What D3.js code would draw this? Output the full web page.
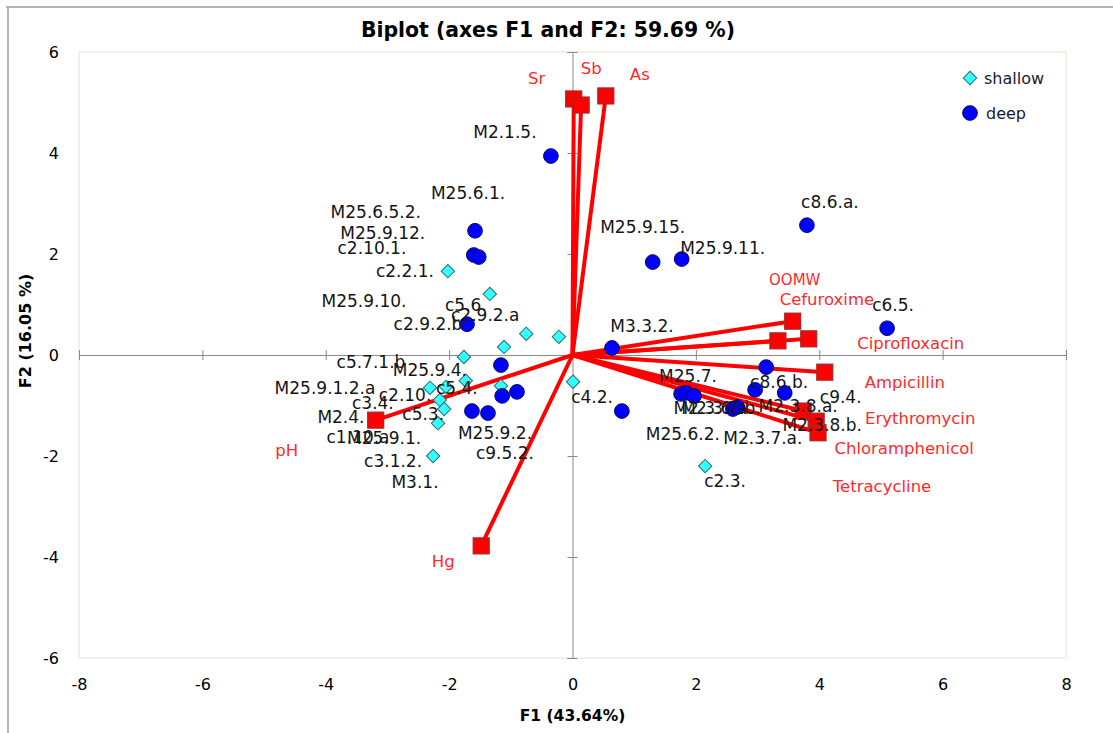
<!DOCTYPE html>
<html>
<head>
<meta charset="utf-8">
<script src="https://cdn.jsdelivr.net/npm/d3@7"></script>
<style>
  body { margin: 0; background: #fff; }
  svg text { font-family: "DejaVu Sans", sans-serif; }
</style>
</head>
<body>
<svg id="chart" width="1113" height="733"></svg>
<script>
// ---- data ----
var chartTitle = 'Biplot (axes F1 and F2: 59.69 %)';
var xTitle = 'F1 (43.64%)';
var yTitle = 'F2 (16.05 %)';
var xTicks = [-8, -6, -4, -2, 0, 2, 4, 6, 8];
var yTicks = [-6, -4, -2, 0, 2, 4, 6];
var groups = ['shallow', 'deep'];

// observations (F1, F2 scores)
var obsNames = ['M2.1.5.', 'M25.6.1.', 'M25.6.5.2.', 'M25.9.12.', 'c2.2.1.', 'c5.6.', 'c2.9.2.b', 'c2.9.2.a',
  'c2.10.1.', 'M25.9.10.', 'c5.7.1.b', 'M25.9.4.', 'c5.4.', 'M25.9.1.2.a', 'c2.10.', 'c3.4.', 'c5.3.', 'M2.4.',
  'c1.10.a', 'M25.9.1.', 'c3.1.2.', 'M25.9.2.', 'c9.5.2.', 'M3.1.',
  'M25.9.15.', 'M25.9.11.', 'c8.6.a.', 'c6.5.', 'M3.3.2.', 'c4.2.', 'c2.3.', 'c8.6.b.', 'c9.4.', 'M2.3.8.a.',
  'M25.7.', 'M2.3.6.a.', 'M2.3.7.b.', 'M25.6.2.', 'M2.3.7.a.', 'M2.3.8.b.'];
var obsF1 = [-0.35, -1.58, -1.60, -1.52, -2.02, -1.34, -1.71, -0.75,
  -0.22, -1.11, -1.76, -1.16, -1.73, -2.31, -2.05, -2.15, -2.08, -1.16,
  -2.18, -1.14, -2.26, -1.37, -1.63, -0.90,
  1.30, 1.77, 3.80, 5.10, 0.64, 0.01, 2.15, 2.96, 3.44, 3.14,
  1.76, 1.84, 1.97, 0.80, 2.60, 2.67];
var obsF2 = [3.94, 2.46, 1.98, 1.94, 1.66, 1.21, 0.61, 0.42,
  0.36, 0.16, -0.04, -0.20, -0.51, -0.65, -0.63, -0.89, -1.07, -0.61,
  -1.35, -0.81, -2.00, -1.15, -1.11, -0.73,
  1.84, 1.90, 2.57, 0.53, 0.14, -0.53, -2.20, -0.69, -0.75, -0.24,
  -0.77, -0.75, -0.81, -1.11, -1.07, -1.03];
var obsGroup = ['deep', 'deep', 'deep', 'deep', 'shallow', 'shallow', 'deep', 'shallow',
  'shallow', 'shallow', 'shallow', 'deep', 'shallow', 'shallow', 'shallow', 'shallow', 'shallow', 'shallow',
  'shallow', 'deep', 'shallow', 'deep', 'deep', 'deep',
  'deep', 'deep', 'deep', 'deep', 'deep', 'shallow', 'shallow', 'deep', 'deep', 'deep',
  'deep', 'deep', 'deep', 'deep', 'deep', 'deep'];

// variables (loadings)
var varNames = ['Sr', 'Sb', 'As', 'Hg', 'pH', 'OOMW', 'Cefuroxime', 'Ciprofloxacin',
  'Ampicillin', 'Erythromycin', 'Chloramphenicol', 'Tetracycline'];
var varF1 = [0.02, 0.14, 0.54, -1.48, -3.19, 3.57, 3.33, 3.83, 4.09, 3.74, 3.95, 3.98];
var varF2 = [5.07, 4.95, 5.13, -3.78, -1.29, 0.67, 0.28, 0.32, -0.34, -1.11, -1.31, -1.54];

// label nudges in px (label centre relative to its point), as placed in the original
var obsLabelShift = {
  'M2.1.5.': [-46, -24], 'M25.6.1.': [-7, -38], 'M25.6.5.2.': [-98, -43], 'M25.9.12.': [-96, -24],
  'c2.2.1.': [-43, 0], 'c5.6.': [-24, 11], 'c2.9.2.b': [-39, 0], 'c2.9.2.a': [-41, -19],
  'c2.10.1.': [-187, -89], 'M25.9.10.': [-140, -46], 'c5.7.1.b': [-93, 5], 'M25.9.4.': [-71, 5],
  'c5.4.': [-9, 7], 'M25.9.1.2.a': [-105, 0], 'c2.10.': [-41, 8], 'c3.4.': [-67, 3], 'c5.3.': [-21, 5],
  'M2.4.': [-160, 31], 'c1.10.a': [-80, 14], 'M25.9.1.': [-118, 42], 'c3.1.2.': [-40, 5],
  'M25.9.2.': [7, 20], 'c9.5.2.': [33, 42], 'M3.1.': [-102, 90],
  'M25.9.15.': [-10, -35], 'M25.9.11.': [41, -11], 'c8.6.a.': [23, -23], 'c6.5.': [6, -23],
  'M3.3.2.': [30, -22], 'c4.2.': [19, 15], 'c2.3.': [20, 15], 'c8.6.b.': [24, -8], 'c9.4.': [56, 4],
  'M2.3.8.a.': [32, 39], 'M25.7.': [7, -18], 'M2.3.6.a.': [27, 15], 'M2.3.7.b.': [27, 12],
  'M25.6.2.': [61, 23], 'M2.3.7.a.': [30, 29], 'M2.3.8.b.': [85, 18]
};
var varLabelShift = {
  'Sr': [-37, -21], 'Sb': [10, -37], 'As': [34, -22], 'Hg': [-38, 15], 'pH': [-89, 30],
  'OOMW': [2, -41], 'Cefuroxime': [49, -42], 'Ciprofloxacin': [102, 4], 'Ampicillin': [80, 10],
  'Erythromycin': [117, 7], 'Chloramphenicol': [88, 27], 'Tetracycline': [64, 53]
};

// ---- drawing ----
var svg = d3.select('#chart');
var plotL = 79, plotR = 1066, plotT = 52, plotB = 658;

var x = d3.scaleLinear().domain([-8, 8]).range([plotL, plotR]);
var y = d3.scaleLinear().domain([-6, 6]).range([plotB, plotT]);

// outer frame (only top and left edges show)
svg.append('line').attr('x1', 6).attr('x2', 1113).attr('y1', 7).attr('y2', 7)
  .attr('stroke', '#b4b4b4').attr('stroke-width', 2);
svg.append('line').attr('x1', 8).attr('x2', 8).attr('y1', 7).attr('y2', 733)
  .attr('stroke', '#b4b4b4').attr('stroke-width', 2);

// plot area border
svg.append('rect').attr('x', plotL).attr('y', plotT)
  .attr('width', plotR - plotL).attr('height', plotB - plotT)
  .attr('fill', 'none').attr('stroke', '#e8e2cf');

// tick labels outside the plot
var fmt = function(d) { return String(d); };
var xLab = svg.append('g').attr('transform', 'translate(0,' + plotB + ')')
  .call(d3.axisBottom(x).tickValues(xTicks).tickSize(0).tickPadding(21).tickFormat(fmt));
var yLab = svg.append('g').attr('transform', 'translate(' + plotL + ',0)')
  .call(d3.axisLeft(y).tickValues(yTicks).tickSize(0).tickPadding(20).tickFormat(fmt));
[xLab, yLab].forEach(function(g) {
  g.select('.domain').remove();
  g.selectAll('text').attr('font-size', 16).attr('fill', '#000')
    .style('font-family', '"DejaVu Sans", sans-serif');
});

// zero axes through the origin with crossing ticks
var xZero = svg.append('g').attr('transform', 'translate(0,' + y(0) + ')')
  .call(d3.axisBottom(x).tickValues(xTicks).tickSizeOuter(0).tickSize(5).tickFormat(''));
xZero.selectAll('.tick line').attr('y1', -5).attr('y2', 5);
var yZero = svg.append('g').attr('transform', 'translate(' + x(0) + ',0)')
  .call(d3.axisLeft(y).tickValues(yTicks).tickSizeOuter(0).tickSize(5).tickFormat(''));
yZero.selectAll('.tick line').attr('x1', -5).attr('x2', 5);
[xZero, yZero].forEach(function(g) {
  g.selectAll('.domain, .tick line').attr('stroke', '#8a8a8a');
});

// variable vectors
var vars = varNames.map(function(n, i) { return { name: n, f1: varF1[i], f2: varF2[i] }; });
var obs = obsNames.map(function(n, i) { return { name: n, f1: obsF1[i], f2: obsF2[i], group: obsGroup[i] }; });

svg.append('g').selectAll('line').data(vars).enter().append('line')
  .attr('x1', x(0)).attr('y1', y(0))
  .attr('x2', function(d) { return x(d.f1); })
  .attr('y2', function(d) { return y(d.f2); })
  .attr('stroke', '#ff0000').attr('stroke-width', 4);

svg.append('g').selectAll('rect').data(vars).enter().append('rect')
  .attr('x', function(d) { return x(d.f1) - 8; })
  .attr('y', function(d) { return y(d.f2) - 8; })
  .attr('width', 16).attr('height', 16)
  .attr('fill', '#ff0000').attr('stroke', '#9b2b2b').attr('stroke-width', 1.2);

// observations
var shallowSym = d3.symbol().type(d3.symbolSquare).size(90);
var deepSym = d3.symbol().type(d3.symbolCircle).size(170);
function drawMarker(g, group) {
  if (group === 'shallow') {
    g.append('path').attr('d', shallowSym()).attr('transform', 'rotate(45)')
      .attr('fill', '#33ffff').attr('stroke', '#2e6e6e').attr('stroke-width', 1);
  } else {
    g.append('path').attr('d', deepSym())
      .attr('fill', '#0000ff').attr('stroke', '#0a0a5a').attr('stroke-width', 1);
  }
}
svg.append('g').selectAll('g').data(obs).enter().append('g')
  .attr('transform', function(d) { return 'translate(' + x(d.f1) + ',' + y(d.f2) + ')'; })
  .each(function(d) { drawMarker(d3.select(this), d.group); });

// observation labels
svg.append('g').selectAll('text').data(obs).enter().append('text')
  .attr('x', function(d) { return x(d.f1) + obsLabelShift[d.name][0]; })
  .attr('y', function(d) { return y(d.f2) + obsLabelShift[d.name][1]; })
  .attr('dy', '0.35em').attr('text-anchor', 'middle')
  .attr('font-size', 17).attr('fill', '#151515')
  .text(function(d) { return d.name; });

// variable labels
svg.append('g').selectAll('text').data(vars).enter().append('text')
  .attr('x', function(d) { return x(d.f1) + varLabelShift[d.name][0]; })
  .attr('y', function(d) { return y(d.f2) + varLabelShift[d.name][1]; })
  .attr('dy', '0.35em').attr('text-anchor', 'middle')
  .attr('font-size', function(d) { return d.name === 'OOMW' ? 15 : 16.5; })
  .attr('fill', '#ff2a2a')
  .text(function(d) { return d.name; });

// legend
var legend = svg.append('g').selectAll('g').data(groups).enter().append('g')
  .attr('transform', function(d, i) { return 'translate(970,' + (78 + i * 35) + ')'; });
legend.each(function(d) { drawMarker(d3.select(this), d); });
legend.append('text').attr('x', function(d) { return d === 'shallow' ? 14 : 16; }).attr('dy', '0.35em')
  .attr('font-size', 16).attr('fill', '#1a1a33').text(function(d) { return d; });

// titles
svg.append('text').attr('x', 548).attr('y', 30).attr('dy', '0.35em').attr('text-anchor', 'middle')
  .attr('font-size', 20.4).attr('font-weight', 'bold').text(chartTitle);
svg.append('text').attr('x', x(0)).attr('y', 716).attr('dy', '0.35em').attr('text-anchor', 'middle')
  .attr('font-size', 15.5).attr('font-weight', 'bold').text(xTitle);
svg.append('text').attr('transform', 'translate(25,331) rotate(-90)').attr('dy', '0.35em')
  .attr('text-anchor', 'middle').attr('font-size', 16).attr('font-weight', 'bold').text(yTitle);
</script>
</body>
</html>
